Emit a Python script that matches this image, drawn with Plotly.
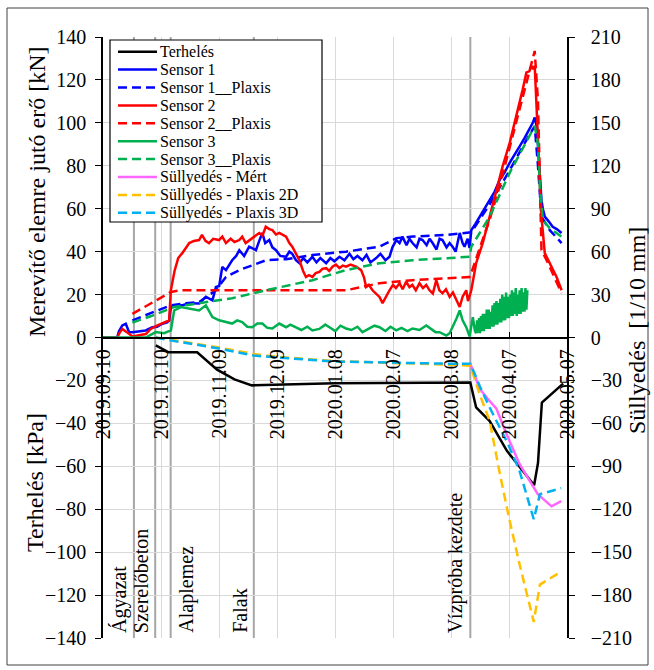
import plotly.graph_objects as go
import pandas as pd

FONT = "Liberation Serif, Times New Roman, DejaVu Serif, serif"
BASE = pd.Timestamp("2019-09-10")   # day 0 of the series below

# ---------------- data (day offset from 2019-09-10, value) ----------------
date_ticks = ["2019.09.10", "2019.10.10", "2019.11.09", "2019.12.09", "2020.01.08",
              "2020.02.07", "2020.03.08", "2020.04.07", "2020.05.07"]

series_names = ["Terhelés", "Sensor 1", "Sensor 1__Plaxis", "Sensor 2", "Sensor 2__Plaxis",
                "Sensor 3", "Sensor 3__Plaxis", "Süllyedés - Mért",
                "Süllyedés - Plaxis 2D", "Süllyedés - Plaxis 3D"]

# Terhelés [kPa] (left axis)
terheles = [(27.3, -3.7), (34, -6.9), (48.7, -6.9), (59, -15), (68, -19.5), (77, -22.3),
            (120, -21.3), (190, -21), (193, -32.6), (200, -38.9), (209, -52.9),
            (223, -68.8), (225, -58.4), (227, -30.3), (238, -21.5)]

# Sensor forces [kN] (left axis)
sensor1 = [(0, 0), (7.3, 0), (8.3, 3), (10, 5.6), (11.8, 6.4), (13.5, 2.5), (15.2, 2.5),
           (18.7, 3), (22.1, 3.3), (25.5, 4.8), (28, 5), (30.7, 6.4), (33.2, 7), (34.2, 8),
           (35.1, 14.2), (37.3, 15), (41.1, 15), (44.6, 16), (49.7, 15.8), (53.2, 19),
           (56.6, 17.3), (58.4, 23.5), (60.1, 24), (61.7, 32.9), (63.6, 31.4), (66.8, 36),
           (68.9, 38), (70.5, 40.7), (73, 38), (75.6, 42.3), (79.1, 40.7), (80.8, 45),
           (82.4, 48.7), (83.9, 44), (86, 45.4), (87.6, 42), (89.5, 40.7), (91.7, 38),
           (94.7, 37.6), (96.4, 40), (97.9, 39), (99.8, 36), (101.6, 34.6), (103.6, 37),
           (105.7, 35), (108.3, 37.6), (110.4, 35), (112.4, 37), (115.4, 34.6), (117.6, 37),
           (119.7, 35.5), (122.3, 37.6), (124.9, 36), (127.5, 39), (129.5, 36.5), (131.6, 38),
           (134.2, 36), (136.3, 38.5), (138.3, 35), (141.3, 37), (143.5, 39), (146.1, 36),
           (148.2, 37.6), (149.7, 42), (151.7, 45.4), (153.4, 44), (154.9, 47), (157, 43),
           (158.5, 46), (160.1, 44), (162.2, 42), (163.7, 46), (165.3, 45.4), (167.4, 43),
           (168.9, 46), (170.5, 44), (172.5, 41), (174.1, 46), (175.6, 45.4), (177.7, 42),
           (179.3, 44), (180.8, 42.3), (182.4, 40), (184.5, 48.7), (186, 44), (187, 42.3),
           (188.6, 46), (189.6, 41.7), (190.5, 50), (192.7, 53), (194.8, 56.3), (197.4, 60),
           (200, 64.1), (202.6, 68), (205.2, 73.5), (207.8, 77), (210.4, 81.5), (212.9, 85),
           (215.5, 89), (218.1, 93), (220.7, 97), (222.3, 100), (223.3, 102.5), (224.4, 98),
           (225.1, 88), (225.9, 75), (226.8, 64), (227.5, 60), (228.5, 56.3), (230.6, 54),
           (232.6, 51.6), (234.7, 50.5), (237.2, 48.7)]

sensor1_plaxis = [(15.2, 8), (35.1, 15), (42.8, 16), (49.7, 16.5), (58.4, 22), (63.6, 28.2),
                  (70.5, 31.4), (77.2, 33.7), (84.3, 36), (94.7, 36.5), (108.3, 38.4),
                  (125.7, 40), (143, 42.3), (151.7, 46.3), (160.1, 47), (177.6, 47.8),
                  (189.6, 48.7), (190.5, 49), (200, 62), (210.4, 78), (219, 92),
                  (223.3, 98.5), (224.9, 81), (226.8, 56.3), (231.1, 50), (237.2, 44)]

sensor2 = [(0, 0), (7.3, 0), (8.8, 2.5), (10, 4), (12.3, 2.5), (15.2, 0.5), (22.1, 1.6),
           (24.7, 4), (28.2, 5.6), (32.5, 7.2), (34.2, 8), (35.1, 22), (37, 31), (38.9, 37),
           (41, 39.3), (44.6, 44), (47, 45), (49.7, 45.4), (51.2, 47.8), (53, 45), (54.8, 44),
           (57, 46), (60, 45.4), (61.7, 47), (63.6, 44), (66, 46), (68, 44.5), (70.5, 45.4),
           (72, 47), (73.8, 44), (77.2, 46.3), (80.8, 48.7), (82.5, 47.5), (84.2, 51.6),
           (86, 50.5), (87.6, 50), (89.5, 48), (91.2, 48.7), (94.7, 47), (96.4, 44),
           (97.9, 42.3), (99.8, 39), (101.6, 36), (103.5, 31), (105, 28.2), (106.5, 29),
           (108.3, 28.2), (110, 30), (111.9, 30.6), (113.5, 32), (115.4, 32.3), (117, 31),
           (118.7, 33), (120.5, 34), (122.3, 32.3), (124, 33.5), (125.7, 33), (128, 34),
           (130.9, 33), (133.5, 31.4), (135, 28), (136.1, 23.5), (137.5, 24.5), (139.4, 22),
           (141, 20.5), (143, 18.9), (144.6, 16), (146.3, 19), (148.2, 22), (150, 24.5),
           (151.5, 23), (153.4, 25.3), (155, 22.5), (156.8, 26), (158.5, 23.5), (160, 24.5),
           (161.8, 22), (163.7, 25.3), (165.5, 23), (167.2, 24.5), (168.9, 22), (170.6, 20.5),
           (172.4, 26.7), (174, 22), (175.6, 20.6), (177.4, 22.5), (179.3, 18.9), (181, 21),
           (182.7, 17.3), (184.5, 14.2), (186, 19), (187.9, 22), (188.8, 17), (189.6, 18.9),
           (190.5, 22), (193, 34.6), (196.4, 44), (200, 56.3), (203.5, 68.8), (206.7, 79.7),
           (210.4, 90.8), (213.8, 103), (217.1, 115.6), (219, 123.5), (220.5, 124),
           (221.6, 126.6), (222.5, 125), (223.3, 126.6), (224.9, 97), (226.8, 56.3),
           (228.5, 39.3), (231.1, 34.6), (234.6, 28.2), (237.2, 22)]

sensor2_plaxis = [(15.2, 11), (35.1, 21.2), (40, 22), (100, 22), (125.7, 22), (143, 25.3),
                  (160.1, 26.7), (189.6, 28.2), (190.5, 30), (195, 42), (200, 55), (205, 70),
                  (210, 87), (215, 105), (220, 122), (223.3, 133.5), (225, 110), (226, 70),
                  (226.8, 40.7), (230, 35), (237.2, 20.6)]

sensor3 = [(0, 0), (22.1, 0), (27.3, 2.5), (31.6, 2), (35.1, 3.3), (36.8, 12.6), (40.3, 14.2),
           (44.6, 13.6), (49.7, 12.6), (53.2, 15), (56.6, 9.5), (60.1, 8), (63.6, 7.2),
           (66.8, 6.5), (69.4, 8), (72, 7.2), (74.6, 5), (77.2, 4.8), (79.8, 6.5), (82.4, 6.5),
           (85, 4.5), (87.6, 4.2), (91.2, 6.5), (94.7, 4.8), (96.9, 6), (99.8, 4.8),
           (102.6, 3.5), (105.7, 5), (108.3, 3.3), (111.9, 4), (115, 6), (117.1, 4.8),
           (120.2, 3), (122.8, 5.5), (125.7, 4.2), (128.5, 3.5), (131.6, 5), (134.2, 2.5),
           (137.3, 4), (140.4, 5.5), (143, 4.8), (146.1, 3), (148.7, 5), (151.7, 3.3),
           (154.4, 4.5), (157.5, 3), (160.1, 4.2), (163.7, 3.5), (167.2, 5.6), (169.4, 4),
           (172, 2.5), (174.1, 2.5), (177.6, 0.9), (179.3, 2), (180.8, 4.8), (182.9, 9),
           (184.5, 12.6), (186, 8), (187.9, 4.8), (189.6, 0.5), (191.3, 9.5), (192.4, 3),
           (193, 2), (193.5, 8), (194, 2), (194.5, 9), (195, 2), (195.5, 10), (196, 3),
           (196.5, 11), (197, 3), (197.5, 11), (198, 4), (198.5, 13), (199, 4), (199.5, 13),
           (200, 4), (200.5, 12), (201, 5), (201.5, 15), (202, 5), (202.5, 16), (203, 6),
           (203.5, 17), (204, 6), (204.5, 16), (205, 7), (205.5, 18), (206, 7), (206.5, 20),
           (207, 8), (207.5, 19), (208, 8), (208.5, 21), (209, 9), (209.5, 19), (210, 9),
           (210.5, 20), (211, 10), (211.5, 22), (212, 10), (212.5, 21), (213, 11), (213.5, 23),
           (214, 10), (214.5, 20), (215, 11), (215.5, 22), (216, 11), (216.5, 23), (217, 12),
           (217.5, 21), (218, 12), (218.5, 23), (219, 13), (219.5, 22)]

sensor3_plaxis = [(15.2, 7), (25, 10), (36.8, 14.2), (53.2, 16.5), (66.8, 18.3), (84.3, 22),
                  (101.6, 25.3), (108.3, 26.7), (125.7, 31.4), (143, 34.6), (160.1, 36),
                  (189.6, 37.6), (190.5, 42.3), (200, 56.3), (210.4, 76.8), (219, 90.8),
                  (223.3, 98.5), (225, 90), (226, 70), (227.5, 54.8), (231, 51), (237.2, 47)]

# Süllyedés [1/10 mm] (right axis)
sully_mert = [(190, -18.3), (194.8, -35.8), (199, -42.8), (203.5, -49.8), (208.7, -67.4),
              (215.5, -88.5), (224.9, -109.5), (232, -118), (237, -114.4)]

sully_2d = [(27.3, 0), (35, -1.5), (60, -7), (78, -11.5), (90, -13.5), (120, -16.5),
            (179, -19), (190, -19.7), (194.8, -39.5), (200, -58.3), (205, -93.4),
            (210, -126), (215.5, -158.7), (222.8, -198.7), (226, -172.7), (237, -163.6)]

sully_3d = [(27.3, 0), (35, -2), (60, -7.7), (78, -12.6), (90, -14), (120, -16.8),
            (179, -18.3), (190, -18.3), (194.8, -33.7), (200, -48.9), (209.5, -74.4),
            (215.5, -93.4), (222.8, -127), (226, -109.5), (237, -105.3)]

event_labels = ["Ágyazat", "Szerelőbeton", "Alaplemez", "Falak", "Vízpróba kezdete"]
event_dates = ["2019-09-26", "2019-10-07", "2019-10-15", "2019-11-27", "2020-03-18"]
event_label_side = ["left", "left", "right", "left", "left"]

# ---------------- styles ----------------
BLUE, RED, GREEN = "#0000ff", "#ff0000", "#00b050"
MAGENTA, ORANGE, CYAN = "#ff66ff", "#ffc000", "#00b0f0"
DASH = "9px,5px"
series_data = [terheles, sensor1, sensor1_plaxis, sensor2, sensor2_plaxis,
               sensor3, sensor3_plaxis, sully_mert, sully_2d, sully_3d]
series_style = [("black", "solid", "y"), (BLUE, "solid", "y"), (BLUE, DASH, "y"),
                (RED, "solid", "y"), (RED, DASH, "y"), (GREEN, "solid", "y"),
                (GREEN, DASH, "y"), (MAGENTA, "solid", "y2"), (ORANGE, DASH, "y2"),
                (CYAN, DASH, "y2")]


def to_dates(days):
    return [BASE + pd.Timedelta(days=d) for d in days]


fig = go.Figure()
for i in range(len(series_data)):
    d, v = zip(*series_data[i])
    color, dash, ax = series_style[i]
    fig.add_trace(go.Scatter(x=to_dates(d), y=list(v), mode="lines", name=series_names[i],
                             yaxis=ax, showlegend=False,
                             line=dict(color=color, width=2.5, dash=dash)))

# ---------------- layout ----------------
L, R, T, B = 103, 87, 37, 32
W, H = 654, 670
PW, PH = W - L - R, H - T - B


def px_x(x):
    return (x - L) / PW


def px_y(y):
    return (H - B - y) / PH


tick_dates = [pd.to_datetime(t, format="%Y.%m.%d") for t in date_ticks]
grid = "#d9d9d9"

fig.update_layout(
    width=W, height=H, margin=dict(l=L, r=R, t=T, b=B),
    paper_bgcolor="white", plot_bgcolor="white",
    font=dict(family=FONT, size=20, color="black"),
    showlegend=False,
    xaxis=dict(type="date", range=[tick_dates[0], tick_dates[-1]],
               tickvals=tick_dates, ticktext=date_ticks, tickangle=-90,
               anchor="free", position=0.5, showline=True, linecolor="black", linewidth=1.5,
               ticks="inside", ticklen=5, tickcolor="black", showgrid=True, gridcolor=grid,
               gridwidth=1, zeroline=False, tickfont=dict(size=20, family=FONT),
               ticklabelstandoff=3),
    yaxis=dict(range=[-140, 140], dtick=20, tick0=0, showgrid=True, gridcolor=grid, gridwidth=1,
               zeroline=False, showline=True, linecolor="black", linewidth=1.5,
               ticks="outside", ticklen=6, tickcolor="black",
               tickfont=dict(size=20, family=FONT), ticklabelstandoff=5),
    yaxis2=dict(range=[-210, 210], dtick=30, tick0=0, overlaying="y", side="right",
                showgrid=False, zeroline=False, showline=True, linecolor="black", linewidth=1.5,
                ticks="outside", ticklen=6, tickcolor="black",
                tickfont=dict(size=20, family=FONT), ticklabelstandoff=12),
)

shapes = []
annotations = []

# event lines and labels
for lab, dt, side in zip(event_labels, event_dates, event_label_side):
    shapes.append(dict(type="line", xref="x", yref="paper", x0=dt, x1=dt, y0=0, y1=1,
                       line=dict(color="#a6a6a6", width=2), layer="between"))
    annotations.append(dict(text=lab, x=dt, xref="x", y=0, yref="paper",
                            xanchor="right" if side == "left" else "left",
                            yanchor="bottom", textangle=-90,
                            xshift=-1 if side == "left" else 2, yshift=3,
                            showarrow=False, font=dict(size=20, family=FONT)))

# axis titles
title_font = dict(size=24, family=FONT)
annotations.append(dict(text="Merevítő elemre jutó erő [kN]", x=px_x(37), y=px_y(192),
                        xref="paper", yref="paper", xanchor="center", yanchor="middle",
                        textangle=-90, showarrow=False, font=title_font))
annotations.append(dict(text="Terhelés [kPa]", x=px_x(35), y=px_y(483),
                        xref="paper", yref="paper", xanchor="center", yanchor="middle",
                        textangle=-90, showarrow=False, font=title_font))
annotations.append(dict(text="Süllyedés\u00a0 [1/10 mm]", x=px_x(637), y=px_y(331),
                        xref="paper", yref="paper", xanchor="center", yanchor="middle",
                        textangle=-90, showarrow=False, font=title_font))

# outer frame
shapes.append(dict(type="rect", xref="paper", yref="paper", x0=px_x(7), x1=px_x(648),
                   y0=px_y(665), y1=px_y(8), line=dict(color="#404040", width=1), layer="above"))

# custom legend (box, samples, labels)
shapes.append(dict(type="rect", xref="paper", yref="paper", x0=px_x(110), x1=px_x(322),
                   y0=px_y(222), y1=px_y(40), fillcolor="white",
                   line=dict(color="black", width=1.2), layer="above"))
for i, name in enumerate(series_names):
    yy = px_y(51.7 + 17.9 * i)
    color, dash, _ = series_style[i]
    shapes.append(dict(type="line", xref="paper", yref="paper", x0=px_x(118), x1=px_x(157),
                       y0=yy, y1=yy, line=dict(color=color, width=2.5, dash=dash),
                       layer="above"))
    annotations.append(dict(text=name, x=px_x(159), y=yy, xref="paper", yref="paper",
                            xanchor="left", yanchor="middle", borderpad=0,
                            showarrow=False, font=dict(size=16, family=FONT)))

fig.update_layout(shapes=shapes, annotations=annotations)
fig.write_html("out.html")
